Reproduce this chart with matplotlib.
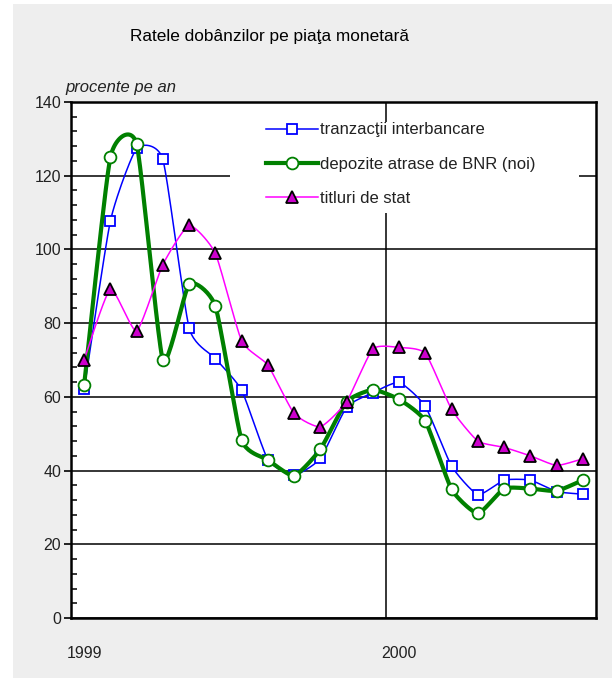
import numpy as np
import matplotlib
matplotlib.use("Agg")
import matplotlib.pyplot as plt
from matplotlib.patches import Rectangle
from matplotlib.ticker import MultipleLocator

# -----------------------------
# Data (monthly, Jan 1999 - Aug 2000)
# -----------------------------
interbank = [62.0, 107.7, 127.4, 124.4, 78.7, 70.4, 61.8, 43.0, 38.8, 43.3,
             57.2, 61.1, 63.9, 57.4, 41.2, 33.5, 37.4, 37.4, 34.3, 33.6]
deposits = [63.2, 125.0, 128.6, 70.0, 90.6, 84.6, 48.3, 42.9, 38.6, 45.8,
            58.7, 61.9, 59.3, 53.4, 34.9, 28.4, 35.1, 35.1, 34.5, 37.4]
tbills = [70.0, 89.2, 77.9, 95.9, 106.5, 98.9, 75.2, 68.6, 55.5, 51.9,
          58.7, 73.0, 73.4, 71.8, 56.6, 48.0, 46.3, 44.0, 41.4, 43.2]

series_labels = ["tranzacţii interbancare", "depozite atrase de BNR (noi)", "titluri de stat"]
year_labels = ["1999", "2000"]
year_pos = [0, 12]

plt.rcParams['font.family'] = ['Liberation Sans', 'DejaVu Sans']


def smooth(y, k=0.09, n=24):
    # smoothed line like excel (bezier through the points)
    x = np.arange(len(y), dtype=float)
    y = np.asarray(y, dtype=float)
    P = np.column_stack([x, y])
    out = []
    t = np.linspace(0, 1, n)[:, None]
    for i in range(len(P) - 1):
        p0 = P[max(i - 1, 0)]
        p1 = P[i]
        p2 = P[i + 1]
        p3 = P[min(i + 2, len(P) - 1)]
        c1 = p1 + (p2 - p0) * k
        c2 = p2 - (p3 - p1) * k
        seg = (1 - t) ** 3 * p1 + 3 * (1 - t) ** 2 * t * c1 + 3 * (1 - t) * t ** 2 * c2 + t ** 3 * p2
        out.append(seg if i == 0 else seg[1:])
    out = np.vstack(out)
    return out[:, 0], out[:, 1]


# -----------------------------
# Figure
# -----------------------------
fig = plt.figure(figsize=(6.12, 6.78), dpi=100)
fig.patch.set_facecolor("white")
fig.patches.append(Rectangle((13 / 612, 0), 1 - 13 / 612, 1 - 4 / 678,
                             transform=fig.transFigure, facecolor="#eeeeee",
                             edgecolor="none", zorder=-10))

ax = fig.add_axes([71 / 612, 60 / 678, 525 / 612, 516 / 678])
ax.set_facecolor("white")

x = np.arange(len(interbank))

blue = dict(color="#0000ff", lw=1.1, marker="s", ms=7, mfc="white", mec="#0000ff", mew=1.3)
green = dict(color="#008000", lw=3.0, marker="o", ms=8.5, mfc="white", mec="#008000", mew=1.3)
pink = dict(color="#ff00ff", lw=1.1, marker="^", ms=9, mfc="#cc00cc", mec="black", mew=1.3)

for vals, st, z in [(interbank, blue, 3), (deposits, green, 4), (tbills, pink, 5)]:
    sx, sy = smooth(vals)
    ax.plot(sx, sy, color=st["color"], lw=st["lw"], zorder=z)
    ax.plot(x, vals, ls="none", marker=st["marker"], ms=st["ms"], mfc=st["mfc"],
            mec=st["mec"], mew=st["mew"], zorder=z)

# white box behind legend (hides grid lines like the original)
ax.add_patch(Rectangle(((230 - 71) / 525, (618 - 213) / 516), (579 - 230) / 525, (213 - 122) / 516,
                       transform=ax.transAxes, facecolor="white", edgecolor="none", zorder=2))

handles = [ax.plot([], [], **st)[0] for st in (blue, green, pink)]
leg = ax.legend(handles, series_labels, loc="upper left", bbox_to_anchor=(0.357, 0.975),
                frameon=False, fontsize=12, handlelength=3.1, handletextpad=0.15,
                labelspacing=1.15, borderpad=0.45, borderaxespad=0)
leg.set_zorder(6)
for txt in leg.get_texts():
    txt.set_color("#222222")

# -----------------------------
# Axes styling
# -----------------------------
ax.set_xlim(-0.5, 19.5)
ax.set_ylim(0, 140)

ax.yaxis.set_major_locator(MultipleLocator(20))
ax.yaxis.set_minor_locator(MultipleLocator(4))
ax.tick_params(axis="y", which="major", direction="out", length=5, width=1.2,
               labelsize=11.5, labelcolor="#222222", pad=2)
ax.tick_params(axis="y", which="minor", direction="in", length=4, width=1.1)
ax.grid(axis="y", which="major", color="black", lw=1.1, zorder=1)

ax.set_xticks(year_pos)
ax.set_xticklabels(year_labels)
ax.set_xticks([11.5], minor=True)
ax.tick_params(axis="x", which="both", length=0, labelsize=11.5, labelcolor="#222222", pad=20)
ax.grid(axis="x", which="minor", color="black", lw=1.1, zorder=1)
ax.set_axisbelow(True)

for s in ax.spines.values():
    s.set_linewidth(1.8)
    s.set_color("black")

fig.text(269 / 612, 1 - 41 / 678, "Ratele dobânzilor pe piaţa monetară",
         ha="center", va="baseline", fontsize=12.4, color="black")
fig.text(65 / 612, 1 - 92 / 678, "procente pe an", ha="left", va="baseline",
         fontsize=12, style="italic", color="#222222")

fig.savefig("out.png", dpi=100, facecolor=fig.get_facecolor())
plt.close(fig)
